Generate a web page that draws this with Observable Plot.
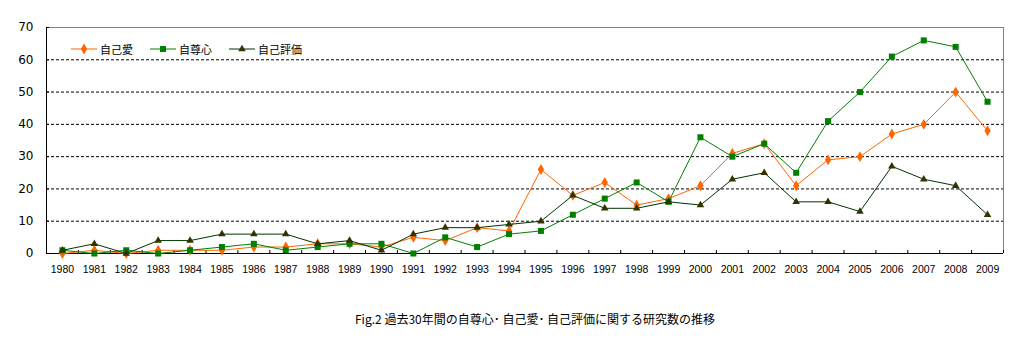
<!DOCTYPE html>
<html><head><meta charset="utf-8">
<script src="https://cdn.jsdelivr.net/npm/d3@7"></script>
<script src="https://cdn.jsdelivr.net/npm/@observablehq/plot@0.6"></script>
<style>
body{margin:0;background:#fff;}
#wrap{position:relative;width:1024px;height:364px;overflow:hidden;}
.leg{position:absolute;top:42px;height:14px;display:flex;align-items:center;font:11px "Noto Sans CJK JP",sans-serif;color:#000;white-space:nowrap;}
.leg svg{margin-right:3px;}
#caption{position:absolute;left:355px;top:310px;font:12px "Noto Sans CJK JP",sans-serif;color:#000;white-space:nowrap;}
</style></head><body>
<div id="wrap"><div id="chart"></div><div id="legend"></div><div id="caption">Fig.2 過去30年間の自尊心･ 自己愛･ 自己評価に関する研究数の推移</div></div>
<script>
const years = [1980,1981,1982,1983,1984,1985,1986,1987,1988,1989,1990,1991,1992,1993,1994,1995,1996,1997,1998,1999,2000,2001,2002,2003,2004,2005,2006,2007,2008,2009];
const seriesNames = ["自己愛","自尊心","自己評価"];
const selfLove   = [0,1,0,1,1,1,2,2,3,3,2,5,4,8,7,26,18,22,15,17,21,31,34,21,29,30,37,40,50,38];
const selfEsteem = [1,0,1,0,1,2,3,1,2,3,3,0,5,2,6,7,12,17,22,16,36,30,34,25,41,50,61,66,64,47];
const selfEval   = [1,3,0,4,4,6,6,6,3,4,1,6,8,8,9,10,18,14,14,16,15,23,25,16,16,13,27,23,21,12];
const yTicks = [0,10,20,30,40,50,60,70];

const styles = [
  {line:"#ff6600", fill:"#ff6600", symbol:"diamond", r:3.3},
  {line:"#008000", fill:"#008000", symbol:"square", r:3.4},
  {line:"#003300", fill:"#333300", symbol:"triangle", r:2.8}
];
const allValues = [selfLove, selfEsteem, selfEval];
const data = allValues.map((vals, s) => years.map((y, i) => ({year: y, value: vals[i], series: seriesNames[s]})));

const xMin = years[0] - 0.5, xMax = years[years.length - 1] + 0.5;
const boundaries = [xMin, ...years.map(y => y + 0.5)];
const gridVals = yTicks.slice(1, -1);

const marks = [
  Plot.ruleY(gridVals, {stroke:"#000", strokeWidth:1, strokeDasharray:"3,2"}),
  Plot.ruleY([yTicks[yTicks.length-1]], {stroke:"#808080", strokeWidth:1}),
  Plot.ruleX([xMax], {stroke:"#808080", strokeWidth:1}),
  Plot.ruleX(boundaries, {y1:0, y2:0, insetBottom:3, stroke:"#000"}),
  Plot.ruleY(yTicks, {x1:xMin, x2:xMin, insetRight:-3, stroke:"#000"}),
  Plot.ruleX([xMin], {stroke:"#000", strokeWidth:1}),
  Plot.ruleY([0], {stroke:"#000", strokeWidth:1}),
];
data.forEach((d, s) => {
  marks.push(Plot.line(d, {x:"year", y:"value", stroke:styles[s].line, strokeWidth:1}));
  marks.push(Plot.dot(d, {x:"year", y:"value", symbol:styles[s].symbol, r:styles[s].r, fill:styles[s].fill, stroke:"none"}));
});
marks.push(Plot.axisX(years, {tickSize:0, tickPadding:12, tickFormat:d => String(d), fontSize:10.5, fontFamily:"Liberation Sans", fill:"#000", label:null}));
marks.push(Plot.axisY(yTicks, {tickSize:0, tickPadding:13, fontSize:12, fontFamily:"DejaVu Sans", fill:"#000", label:null}));

const chart = Plot.plot({
  width:1024, height:290,
  marginLeft:46, marginRight:21, marginTop:27, marginBottom:37,
  x:{type:"linear", domain:[xMin, xMax], label:null},
  y:{type:"linear", domain:[0, 70], label:null},
  style:{background:"#fff", color:"#000"},
  marks
});
document.getElementById("chart").appendChild(chart);

// legend
const leg = d3.select("#legend");
const symMap = {diamond:d3.symbolDiamond, square:d3.symbolSquare, triangle:d3.symbolTriangle};
seriesNames.forEach((name, s) => {
  const item = leg.append("div").attr("class","leg").style("left", (71 + s*79) + "px");
  const svg = item.append("svg").attr("width",26).attr("height",12);
  svg.append("line").attr("x1",0).attr("x2",26).attr("y1",6).attr("y2",6).attr("stroke",styles[s].line).attr("stroke-width",1);
  svg.append("path").attr("transform","translate(13,6)")
    .attr("d", d3.symbol(symMap[styles[s].symbol], Math.PI*styles[s].r*styles[s].r)())
    .attr("fill", styles[s].fill);
  item.append("span").text(name);
});
</script>
</body></html>
